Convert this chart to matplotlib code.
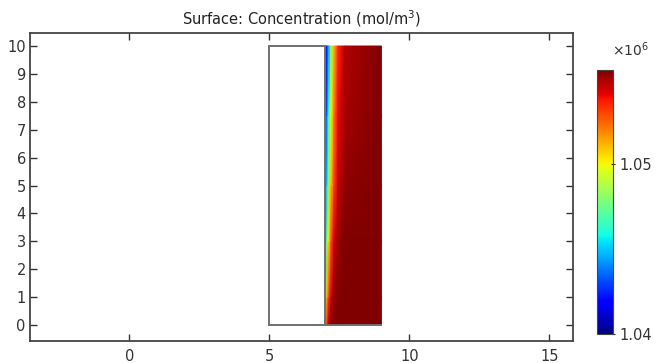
import numpy as np
import matplotlib
matplotlib.use("Agg")
import matplotlib.pyplot as plt
from matplotlib.patches import Rectangle

# geometry of the two domains (x0, y0, width, height)
left_block = (5.0, 0.0, 2.0, 10.0)
right_block = (7.0, 0.0, 2.0, 10.0)

# concentration (units of 1e6 mol/m^3)
x_nodes = [7.0, 7.05, 7.1, 7.2, 7.3, 7.45, 7.7, 9.0]
y_nodes = [0.0, 1.0, 3.0, 5.0, 7.5, 10.0]
conc = [
    [1.0510, 1.0535, 1.0548, 1.0555, 1.0555, 1.0555, 1.0555, 1.0555],
    [1.0480, 1.0510, 1.0530, 1.0545, 1.0552, 1.0555, 1.0555, 1.0555],
    [1.0445, 1.0475, 1.0500, 1.0528, 1.0543, 1.0551, 1.0555, 1.0555],
    [1.0420, 1.0450, 1.0480, 1.0510, 1.0530, 1.0545, 1.0553, 1.0555],
    [1.0410, 1.0435, 1.0460, 1.0495, 1.0520, 1.0540, 1.0550, 1.0555],
    [1.0400, 1.0420, 1.0440, 1.0480, 1.0510, 1.0535, 1.0548, 1.0555],
]
cbar_ticks = [1.04, 1.05]
c_min, c_max = 1.0400, 1.0555


def main():
    fig = plt.figure(figsize=(6.6, 3.63), dpi=100)
    ax = fig.add_axes([0.0455, 0.0606, 0.823, 0.848])

    X, Y = np.meshgrid(x_nodes, y_nodes)
    mesh = ax.pcolormesh(X, Y, np.array(conc), cmap="jet",
                         vmin=c_min, vmax=c_max, shading="gouraud")

    # outline of the empty domain, plus the bottom edge of the colored one
    x0, y0, w, h = left_block
    ax.add_patch(Rectangle((x0, y0), w, h, fill=False,
                           edgecolor="#707070", lw=1.4, zorder=3))
    rx, ry, rw, rh = right_block
    ax.plot([rx, rx + rw], [ry, ry], color="#707070", lw=1.4, zorder=3)

    ax.set_xlim(-3.55, 15.85)
    ax.set_ylim(-0.57, 10.46)

    ax.set_xticks([0, 5, 10, 15])
    ax.set_yticks(range(0, 11))
    ax.tick_params(direction="in", top=True, right=True, length=5,
                   width=1, color="#333333", labelsize=10.5,
                   labelcolor="#333333")
    ax.tick_params(axis="x", pad=6)
    ax.tick_params(axis="y", pad=3)
    for s in ax.spines.values():
        s.set_color("#444444")
        s.set_linewidth(1.3)

    ax.set_title("Surface: Concentration (mol/m$^3$)", fontsize=10.5,
                 color="#222222", pad=6)

    cax = fig.add_axes([0.9045, 0.080, 0.024, 0.727])
    cb = fig.colorbar(mesh, cax=cax, ticks=cbar_ticks)
    cb.ax.set_yticklabels([f"{t:.2f}" for t in cbar_ticks])
    cb.ax.tick_params(labelsize=10.5, labelcolor="#333333", length=3,
                      direction="inout", color="#333333")
    cb.outline.set_edgecolor("#444444")
    cb.outline.set_linewidth(0.8)
    fig.text(0.928, 0.845, r"$\times10^6$", fontsize=10, color="#333333")

    fig.savefig("out.png", dpi=100)


if __name__ == "__main__":
    main()
